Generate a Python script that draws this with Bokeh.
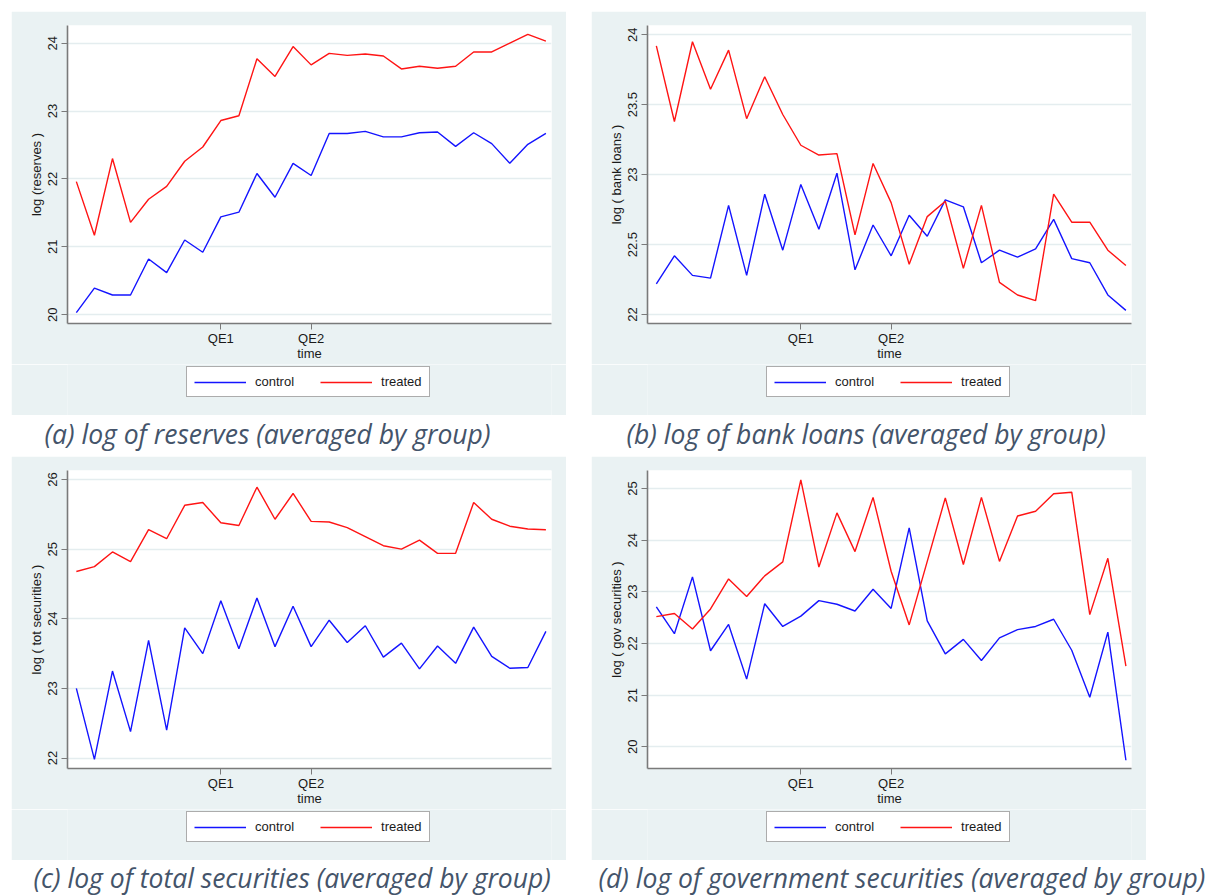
from bokeh.plotting import figure
from bokeh.models import Range1d, FixedTicker, Legend, LegendItem, Spacer
from bokeh.layouts import row, column
from bokeh.core.properties import value
from bokeh.embed import file_html
from bokeh.resources import INLINE

# ---- data -------------------------------------------------------------
time = list(range(27))
qe_ticks = [8, 13]
qe_labels = ["QE1", "QE2"]

reserves_control = [20.03, 20.39, 20.29, 20.29, 20.82, 20.62, 21.10, 20.92, 21.44,
                    21.51, 22.08, 21.73, 22.23, 22.05, 22.67, 22.67, 22.70, 22.62,
                    22.62, 22.68, 22.69, 22.48, 22.68, 22.52, 22.23, 22.51, 22.67]
reserves_treated = [21.96, 21.17, 22.30, 21.36, 21.70, 21.89, 22.26, 22.47, 22.86,
                    22.93, 23.77, 23.51, 23.95, 23.68, 23.85, 23.82, 23.84, 23.81,
                    23.62, 23.66, 23.63, 23.66, 23.87, 23.87, 24.00, 24.13, 24.03]

loans_control = [22.22, 22.42, 22.28, 22.26, 22.78, 22.28, 22.86, 22.46, 22.93,
                 22.61, 23.01, 22.32, 22.64, 22.42, 22.71, 22.56, 22.82, 22.77,
                 22.37, 22.46, 22.41, 22.47, 22.68, 22.40, 22.37, 22.14, 22.03]
loans_treated = [23.92, 23.38, 23.95, 23.61, 23.89, 23.40, 23.70, 23.43, 23.21,
                 23.14, 23.15, 22.57, 23.08, 22.80, 22.36, 22.70, 22.81, 22.33,
                 22.78, 22.23, 22.14, 22.10, 22.86, 22.66, 22.66, 22.46, 22.35]

totsec_control = [23.00, 21.98, 23.25, 22.38, 23.69, 22.40, 23.87, 23.50, 24.26,
                  23.57, 24.30, 23.60, 24.18, 23.60, 23.98, 23.66, 23.90, 23.45,
                  23.65, 23.28, 23.61, 23.36, 23.88, 23.46, 23.29, 23.30, 23.82]
totsec_treated = [24.68, 24.75, 24.96, 24.82, 25.28, 25.15, 25.63, 25.67, 25.38,
                  25.34, 25.89, 25.43, 25.80, 25.40, 25.39, 25.31, 25.18, 25.05,
                  25.00, 25.13, 24.94, 24.94, 25.67, 25.43, 25.33, 25.29, 25.28]

govsec_control = [22.71, 22.19, 23.29, 21.86, 22.37, 21.31, 22.77, 22.33, 22.53,
                  22.83, 22.76, 22.63, 23.05, 22.68, 24.24, 22.44, 21.80, 22.08,
                  21.67, 22.11, 22.27, 22.33, 22.47, 21.87, 20.96, 22.22, 19.74]
govsec_treated = [22.52, 22.58, 22.28, 22.67, 23.25, 22.91, 23.31, 23.58, 25.17,
                  23.48, 24.53, 23.78, 24.83, 23.40, 22.36, 23.59, 24.82, 23.53,
                  24.83, 23.59, 24.47, 24.56, 24.90, 24.93, 22.56, 23.65, 21.56]

y_titles = ["log (reserves )", "log ( bank loans )",
            "log ( tot securities )", "log ( gov securities )"]
y_ticks = [[20, 21, 22, 23, 24], [22, 22.5, 23, 23.5, 24],
           [22, 23, 24, 25, 26], [20, 21, 22, 23, 24, 25]]
y_limits = [(19.87, 24.26), (21.936, 24.066), (21.85, 26.13), (19.58, 25.35)]
captions = ["(a) log of reserves (averaged by group)",
            "(b) log of bank loans (averaged by group)",
            "(c) log of total securities (averaged by group)",
            "(d) log of government securities (averaged by group)"]
series_names = ["control", "treated"]

# ---- style ------------------------------------------------------------
REGION = "#eaf2f3"
AXIS = "#7a7a7a"
FONT = "Liberation Sans"
CAPTION = "#44546a"
LINE_COLORS = ["#1414ff", "#ff1414"]


def chart(control, treated, ytitle, yticks, ylim):
    p = figure(width=555, height=353, toolbar_location=None, output_backend="svg",
               x_range=Range1d(-0.49, 26.31), y_range=Range1d(*ylim),
               min_border_left=56, min_border_right=15, min_border_top=14,
               min_border_bottom=41, background_fill_color="white",
               border_fill_color=REGION, outline_line_color=None)
    for ys, col in zip([control, treated], LINE_COLORS):
        p.line(time, ys, line_color=col, line_width=1.4)

    p.xgrid.visible = False
    p.ygrid.grid_line_color = "#e4edef"
    p.ygrid.grid_line_width = 1.5
    p.ygrid.ticker = FixedTicker(ticks=yticks)

    xa = p.xaxis[0]
    xa.ticker = FixedTicker(ticks=qe_ticks)
    xa.major_label_overrides = {t: l for t, l in zip(qe_ticks, qe_labels)}
    xa.axis_label = "time"
    xa.axis_label_standoff = -3
    xa.major_label_standoff = 1

    ya = p.yaxis[0]
    ya.ticker = FixedTicker(ticks=yticks)
    ya.major_label_overrides = {t: (str(int(t)) if float(t).is_integer() else str(t))
                                for t in yticks}
    ya.major_label_orientation = "vertical"
    ya.axis_label = ytitle
    ya.axis_label_standoff = 2
    ya.major_label_standoff = 4

    for ax in (xa, ya):
        ax.axis_line_color = AXIS
        ax.axis_line_width = 1.6
        ax.major_tick_line_color = AXIS
        ax.major_tick_in = 0
        ax.major_tick_out = 6
        ax.minor_tick_line_color = None
        ax.major_label_text_font = FONT
        ax.major_label_text_font_size = "13px"
        ax.major_label_text_color = "#1a1a1a"
        ax.axis_label_text_font = FONT
        ax.axis_label_text_font_size = "13px"
        ax.axis_label_text_font_style = "normal"
        ax.axis_label_text_color = "#1a1a1a"
    return p


def legend_strip():
    # strip under the chart that carries the series key; its frame lines up
    # with the chart frame above it
    p = figure(width=555, height=51, toolbar_location=None, output_backend="svg",
               x_range=Range1d(0, 1), y_range=Range1d(0, 1),
               x_axis_type=None, y_axis_type=None, min_border=0,
               background_fill_color=REGION, border_fill_color=REGION,
               outline_line_color=None)
    p.grid.visible = False
    keys = [p.line(x=[-10, -9], y=[-10, -10], line_color=col, line_width=1.4)
            for col in LINE_COLORS]
    legend = Legend(items=[LegendItem(label=n, renderers=[r])
                           for n, r in zip(series_names, keys)],
                    orientation="horizontal", location=(119, 18),
                    glyph_width=52, glyph_height=14, label_standoff=9,
                    spacing=26, padding=7, margin=0,
                    border_line_color="#5a5a5a", border_line_width=1.5,
                    background_fill_color="white", background_fill_alpha=1.0,
                    label_text_font=FONT, label_text_font_size="13px",
                    label_text_color="#1a1a1a")
    p.add_layout(legend, "center")
    return p


def caption_strip(left_text, right_text, height, left_x, right_x, y):
    p = figure(width=1210, height=height, toolbar_location=None, output_backend="svg",
               x_range=Range1d(0, 1210), y_range=Range1d(height, 0),
               x_axis_type=None, y_axis_type=None, min_border=0,
               outline_line_color=None,
               background_fill_color="white", border_fill_color="white")
    p.grid.visible = False
    p.text(x=[left_x, right_x], y=[y, y], text=[left_text, right_text],
           text_font=value("Open Sans"), text_font_style="italic",
           text_font_size="26.5px", text_color=CAPTION,
           text_align="left", text_baseline="middle")
    return p


panels = [column(chart(c, t, yt, tk, lim), legend_strip())
          for c, t, yt, tk, lim in zip(
              [reserves_control, loans_control, totsec_control, govsec_control],
              [reserves_treated, loans_treated, totsec_treated, govsec_treated],
              y_titles, y_ticks, y_limits)]

layout = column(
    Spacer(height=11, width=1210),
    row(Spacer(width=11, height=404), panels[0], Spacer(width=25, height=404), panels[1]),
    caption_strip(captions[0], captions[1], 41, 44, 626, 18),
    row(Spacer(width=11, height=404), panels[2], Spacer(width=25, height=404), panels[3]),
    caption_strip(captions[2], captions[3], 35, 33, 598, 17.5),
)

open("out.html", "w").write(file_html(layout, INLINE))
